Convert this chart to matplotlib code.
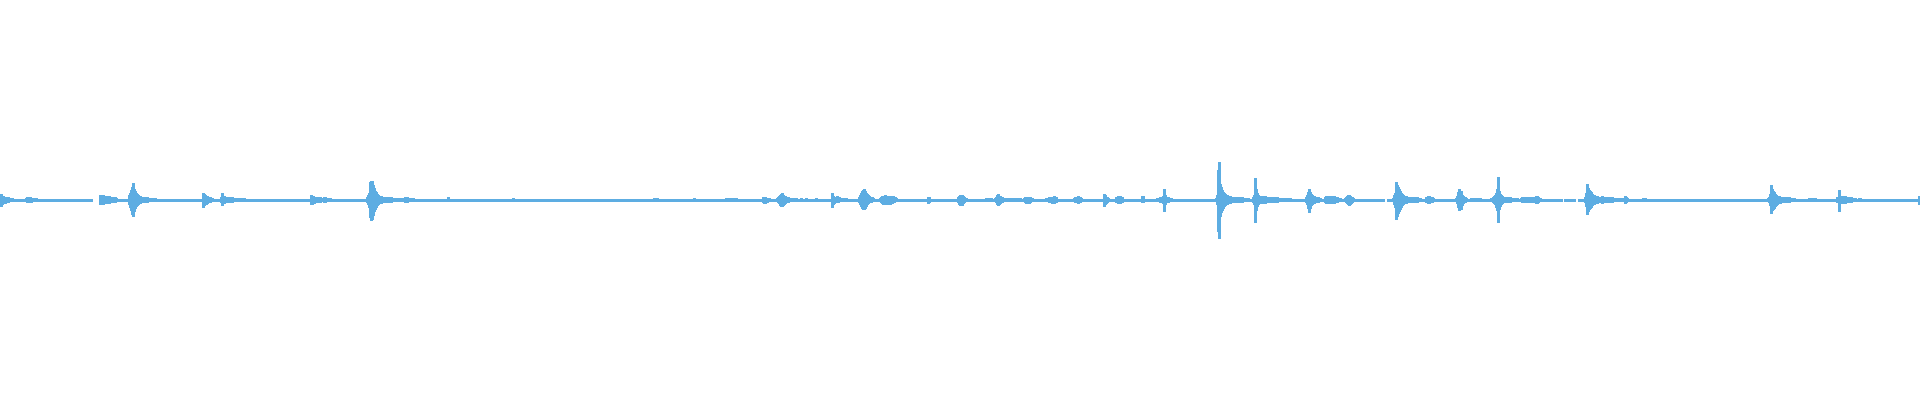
import matplotlib
matplotlib.use("Agg")
import matplotlib.pyplot as plt

# Waveform overview: each burst is a run of pixel columns starting at burst_start,
# with the peak level above (burst_up) and below (burst_down) the centre line.
burst_start = [0, 25, 99, 128, 202, 220, 310, 366, 447, 512, 653, 693, 725, 762, 776,
               795, 800, 805, 815, 831, 858, 879, 927, 957, 985, 994, 1023, 1045, 1073,
               1103, 1115, 1141, 1156, 1215, 1252, 1305, 1324, 1344, 1392, 1425, 1455,
               1470, 1490, 1520, 1584, 1642, 1767, 1808, 1836, 1858, 1918]

burst_up = [
    [5, 3, 3, 2, 2, 2, 2, 2, 1, 1, 1, 1],
    [1, 2, 2, 2, 2, 1, 1, 1, 1, 1, 1],
    [4, 3, 3, 4, 3, 3, 3, 2, 2, 3, 2, 2, 2, 1, 1, 2, 1],
    [4, 6, 9, 12, 16, 10, 8, 6, 5, 4, 3, 3, 2, 2, 2, 2, 2, 2, 2, 1, 1, 1, 1, 1, 1, 1, 1],
    [6, 5, 4, 3, 3, 2, 2, 2, 1, 1],
    [2, 6, 3, 3, 2, 2, 2, 2, 2, 2, 2, 2, 1, 1, 1, 1, 1, 1, 1, 1, 1, 1, 1, 1],
    [4, 3, 3, 2, 2, 2, 2, 2, 2, 2, 1, 1, 1, 2, 2, 1, 1, 1, 1, 1],
    [2, 4, 6, 17, 18, 18, 14, 11, 8, 7, 5, 4, 3, 3, 3, 2, 2, 2, 2, 2, 2, 2, 2, 2, 2,
     1, 1, 1, 1, 1, 1, 1, 1, 1, 1, 1, 1, 1, 2, 2, 2, 1, 1, 1, 1, 1, 1],
    [2],
    [1],
    [1, 1, 1, 1],
    [1],
    [1, 1, 1, 1, 1, 1, 1, 1, 1, 1, 1],
    [2, 2, 2, 1, 1, 1, 1],
    [1, 2, 3, 4, 5, 6, 4, 3, 3, 2, 2, 2, 1, 1, 1, 1, 1, 1],
    [1], [1], [1], [1],
    [6, 3, 2, 2, 2, 3, 2, 2, 1, 1, 1, 1, 1, 1, 1],
    [2, 4, 6, 8, 9, 10, 8, 6, 5, 4, 3, 2, 2, 2, 1],
    [1, 2, 3, 3, 3, 4, 3, 3, 3, 3, 3, 3, 3, 3, 2, 2, 1],
    [2, 2],
    [2, 3, 4, 4, 4, 3, 2, 1, 1],
    [1, 1, 1, 1, 1, 1],
    [1, 2, 4, 5, 3, 3, 2, 2, 1, 1, 1, 1, 1, 1, 1, 1, 1, 1, 1, 1, 1, 1, 1, 1, 1, 1],
    [1, 2, 2, 2, 2, 2, 2, 1, 1],
    [1, 1, 1, 2, 2, 2, 2, 2, 3, 2, 2],
    [1, 2, 2, 2, 3, 2, 2, 1],
    [5, 4, 2, 2, 1],
    [2, 2, 3, 3, 3, 2, 2],
    [3, 3],
    [1, 1, 1, 2, 2, 2, 3, 10, 4, 2, 2, 2, 1, 1, 1],
    [1, 4, 29, 37, 15, 12, 9, 7, 6, 5, 4, 4, 3, 3, 3, 2, 2, 2, 2, 2, 2, 2, 2, 2, 2, 2,
     2, 1, 1, 1, 1, 1, 1],
    [2, 4, 21, 10, 6, 4, 3, 3, 3, 2, 2, 3, 3, 2, 2, 2, 2, 2, 2, 2, 2, 2, 2, 2, 2,
     1, 1, 1, 1, 1, 1, 1, 1, 1, 1, 1, 1, 1],
    [2, 4, 7, 10, 7, 5, 4, 3, 3, 2, 2, 2, 2, 1, 1],
    [2, 3, 3, 2, 3, 3, 2, 2, 3, 3, 2, 2, 2, 1, 1, 1],
    [1, 2, 3, 4, 4, 3, 2, 2, 1],
    [1, 4, 6, 17, 14, 12, 10, 8, 6, 5, 4, 3, 3, 3, 2, 2, 2, 2, 2, 2, 2, 2, 2, 2, 2, 1, 1, 1],
    [2, 2, 3, 3, 2, 2, 2, 1],
    [1, 3, 7, 10, 6, 8, 4, 3, 2, 2, 1],
    [1, 1, 1, 1, 1, 1, 1, 1, 1, 1],
    [1, 1, 2, 3, 4, 6, 10, 22, 8, 5, 4, 3, 2, 2, 2, 2, 2, 2, 2, 2, 1, 1, 1, 1, 1, 1, 1],
    [1, 2, 2, 2, 2, 2, 2, 2, 2, 2, 2, 2, 2, 2, 2, 3, 3, 2, 1, 1],
    [2, 6, 15, 11, 9, 8, 7, 5, 4, 4, 3, 3, 3, 2, 2, 2, 2, 3, 2, 2, 2, 2, 2, 2, 2, 2,
     2, 2, 1, 1, 1, 1, 1, 1, 1, 1, 1, 1, 1, 1, 3, 2, 1],
    [1, 1, 1],
    [1, 2, 5, 14, 10, 8, 7, 5, 4, 3, 3, 3, 2, 2, 2, 2, 2, 2, 2, 2, 2, 2, 1, 1, 1, 1, 1],
    [1, 1, 1, 1, 1, 1, 1],
    [2, 2, 9, 2, 3, 2, 3, 2, 3, 2, 2, 2, 2, 2, 2, 1, 1, 1, 1],
    [1, 1],
    [3, 3],
]

burst_down = [
    [6, 4, 3, 2, 3, 2, 2, 2, 1, 1, 1, 1],
    [1, 2, 2, 2, 2, 2, 1, 1, 1, 1, 1],
    [4, 4, 3, 4, 3, 3, 3, 2, 2, 3, 2, 2, 2, 1, 1, 2, 1],
    [4, 7, 10, 14, 16, 11, 8, 6, 5, 4, 3, 3, 2, 2, 2, 2, 2, 2, 2, 1, 1, 1, 1, 1, 1, 1, 1],
    [7, 5, 4, 4, 3, 2, 2, 2, 1, 1],
    [2, 5, 3, 3, 2, 2, 2, 2, 2, 2, 2, 2, 1, 1, 1, 1, 1, 1, 1, 1, 1, 1, 1, 1],
    [4, 4, 3, 3, 2, 2, 2, 2, 2, 2, 1, 1, 1, 2, 2, 1, 1, 1, 1, 1],
    [2, 4, 7, 17, 20, 19, 15, 11, 9, 7, 5, 4, 3, 3, 3, 2, 2, 2, 2, 2, 2, 2, 2, 2, 2,
     1, 1, 1, 1, 1, 1, 1, 1, 1, 1, 1, 1, 1, 2, 2, 2, 1, 1, 1, 1, 1, 1],
    [1],
    [1],
    [1, 1, 1, 1],
    [1],
    [1, 1, 1, 1, 1, 1, 1, 1, 1, 1, 1],
    [2, 3, 3, 2, 2, 1, 1],
    [1, 2, 3, 5, 6, 6, 5, 4, 3, 2, 2, 2, 1, 1, 1, 1, 1, 1],
    [1], [1], [1], [1],
    [7, 4, 3, 2, 2, 2, 2, 1, 1, 1, 1, 1, 1, 1, 1],
    [2, 4, 6, 8, 9, 9, 8, 6, 4, 3, 2, 2, 2, 1, 1],
    [1, 2, 3, 4, 4, 4, 4, 4, 3, 4, 4, 3, 3, 2, 2, 1, 1],
    [3, 2],
    [2, 4, 5, 5, 5, 3, 2, 1, 1],
    [1, 1, 1, 1, 1, 1],
    [1, 2, 4, 5, 4, 3, 2, 2, 1, 1, 1, 1, 1, 1, 1, 1, 1, 1, 1, 1, 1, 1, 1, 1, 1, 1],
    [1, 2, 3, 3, 3, 3, 2, 1, 1],
    [1, 1, 1, 2, 2, 2, 3, 3, 3, 2, 2],
    [1, 2, 2, 2, 3, 2, 2, 1],
    [6, 4, 3, 2, 1],
    [2, 2, 3, 3, 3, 2, 2],
    [2, 2],
    [1, 1, 1, 2, 2, 2, 3, 11, 4, 2, 2, 2, 1, 1, 1],
    [1, 4, 31, 38, 16, 12, 10, 8, 6, 5, 4, 4, 3, 3, 3, 2, 2, 2, 2, 2, 2, 2, 2, 2, 2, 2,
     2, 1, 1, 1, 1, 1, 1],
    [2, 4, 22, 10, 6, 4, 3, 3, 3, 2, 2, 3, 3, 2, 2, 2, 2, 2, 2, 2, 2, 2, 2, 2, 2,
     1, 1, 1, 1, 1, 1, 1, 1, 1, 1, 1, 1, 1],
    [2, 4, 8, 12, 8, 5, 4, 3, 3, 2, 2, 2, 2, 1, 1],
    [2, 3, 3, 2, 3, 3, 2, 2, 3, 3, 2, 2, 2, 1, 1, 1],
    [1, 2, 3, 4, 5, 4, 3, 2, 1],
    [1, 4, 7, 19, 16, 13, 11, 9, 7, 5, 4, 3, 3, 3, 2, 2, 2, 2, 2, 2, 2, 2, 2, 2, 2, 1, 1, 1],
    [2, 2, 3, 3, 2, 2, 2, 1],
    [1, 3, 7, 10, 7, 9, 5, 3, 2, 2, 1],
    [1, 1, 1, 1, 1, 1, 1, 1, 1, 1],
    [1, 1, 2, 3, 4, 7, 10, 22, 9, 6, 4, 3, 2, 2, 2, 2, 2, 2, 2, 2, 1, 1, 1, 1, 1, 1, 1],
    [1, 2, 2, 2, 2, 2, 2, 2, 2, 2, 2, 2, 2, 2, 2, 3, 3, 2, 1, 1],
    [2, 6, 14, 11, 9, 8, 7, 5, 4, 4, 3, 3, 3, 2, 2, 2, 2, 3, 2, 2, 2, 2, 2, 2, 2, 2,
     2, 2, 1, 1, 1, 1, 1, 1, 1, 1, 1, 1, 1, 1, 3, 2, 1],
    [1, 1, 1],
    [1, 2, 5, 13, 10, 9, 8, 6, 5, 4, 3, 3, 3, 2, 2, 2, 2, 2, 2, 2, 2, 2, 1, 1, 1, 1, 1],
    [1, 1, 1, 1, 1, 1, 1],
    [2, 2, 11, 3, 3, 3, 3, 2, 3, 2, 2, 2, 2, 2, 2, 1, 1, 1, 1],
    [1, 1],
    [4, 4],
]

# small breaks in the centre line (start column, width)
gap_start = [92, 95, 507, 1384, 1562, 1575, 1761]
gap_width = [3, 4, 1, 3, 2, 3, 1]

wave_color = "#5DADE2"
width_px = 1920

fig = plt.figure(figsize=(19.2, 4), dpi=100)
ax = fig.add_axes([0, 0, 1, 1])
ax.set_xlim(0, width_px)
ax.set_ylim(-200.5, 199.5)
ax.axis("off")

# centre line, broken at the gaps
seg_lo = [0] + [g + w for g, w in zip(gap_start, gap_width)]
seg_hi = gap_start + [width_px]
ax.hlines([0] * len(seg_lo), seg_lo, seg_hi, colors=wave_color, lw=0.9, antialiased=False)

# min/max columns of each burst
xs, lows, highs = [], [], []
for start, ups, downs in zip(burst_start, burst_up, burst_down):
    for i, (u, d) in enumerate(zip(ups, downs)):
        xs.append(start + i + 0.5)
        highs.append(u + 0.5)
        lows.append(-d - 0.5)
ax.vlines(xs, lows, highs, colors=wave_color, lw=1.0, antialiased=False)

fig.savefig("out.png", dpi=100, facecolor="white")
